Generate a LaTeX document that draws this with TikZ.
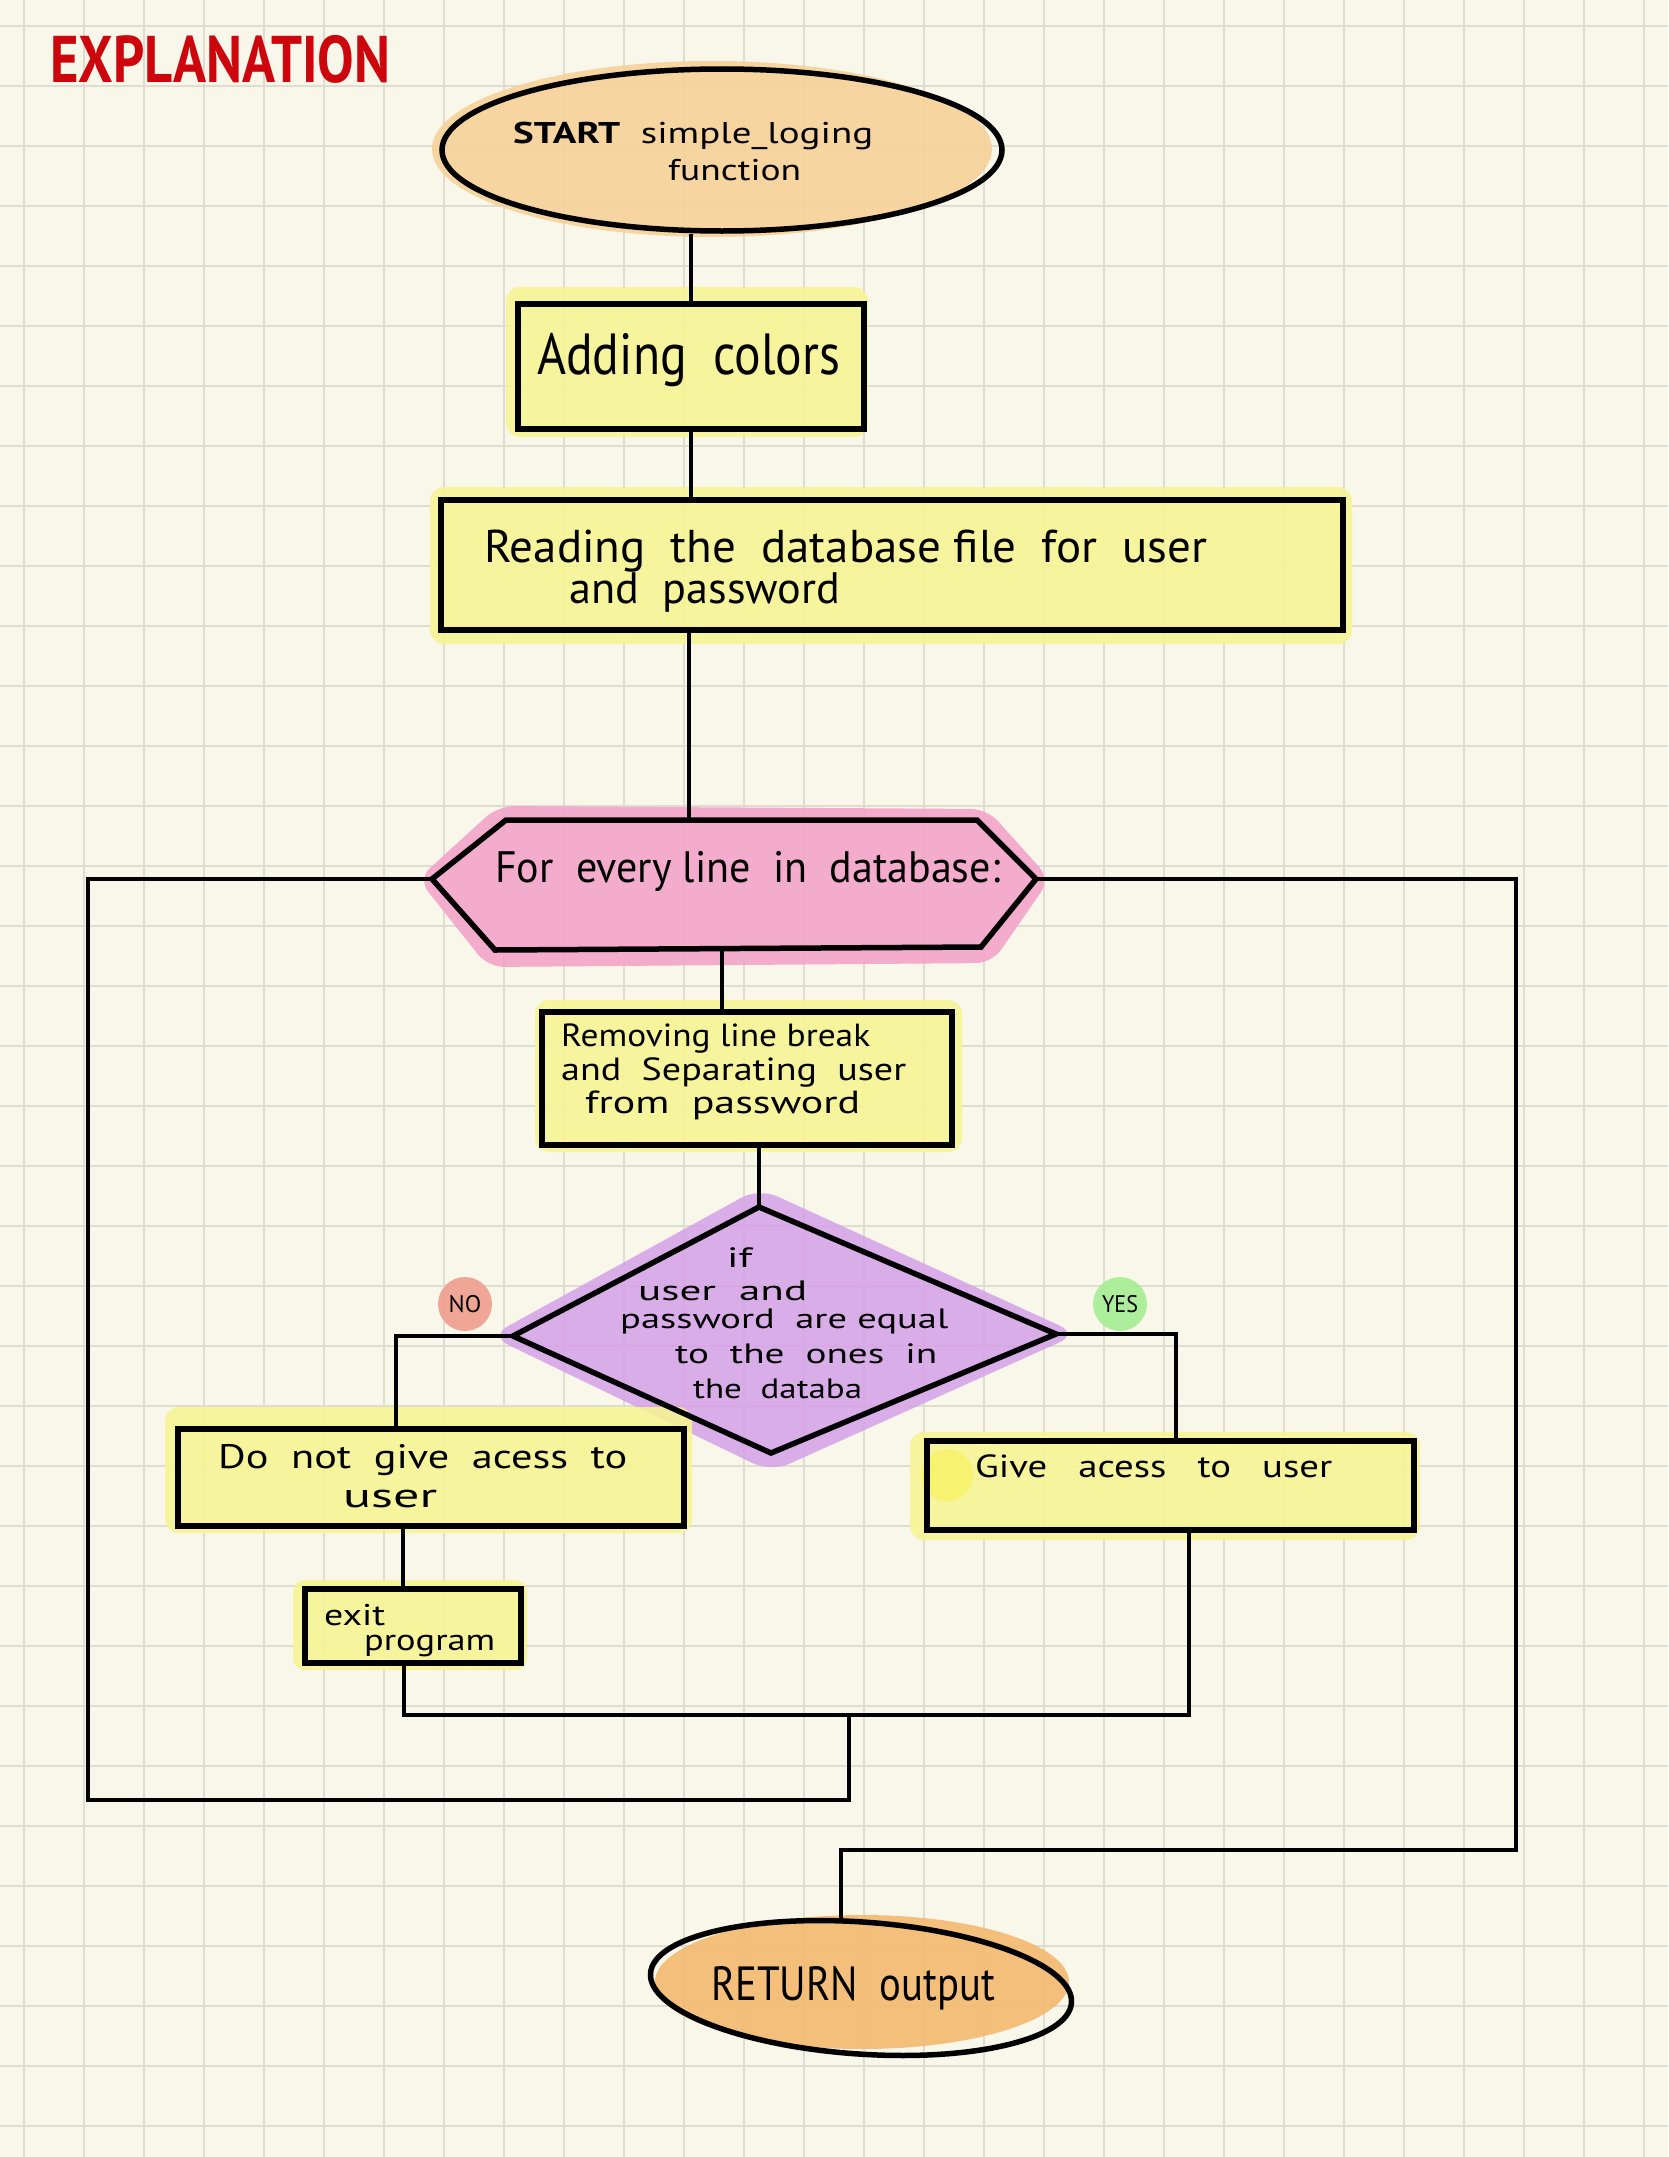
\documentclass[tikz,border=0pt]{standalone}
\usepackage{fontspec}
\usepackage{graphicx}
\setmainfont{PT Sans}
\usetikzlibrary{shapes.geometric,calc}
\definecolor{bgc}{RGB}{249,246,234}
\definecolor{gridc}{RGB}{223,220,210}
\definecolor{hlY}{RGB}{246,244,146}
\definecolor{hlP}{RGB}{244,162,202}
\definecolor{hlV}{RGB}{213,163,231}
\definecolor{hlO}{RGB}{246,209,152}
\definecolor{hlR}{RGB}{244,184,108}
\definecolor{redT}{RGB}{204,6,12}
\definecolor{noC}{RGB}{239,158,142}
\definecolor{yesC}{RGB}{165,238,148}
\newcommand{\fitw}[2]{\resizebox{#1pt}{\height}{#2}}
\tikzset{
  gridl/.style={gridc, line width=2.5pt},
  hl/.style={fill opacity=0.88},
  boxnode/.style={draw, line width=5.5pt, rectangle, inner sep=0pt},
  ellnode/.style={draw, line width=5.5pt, ellipse, inner sep=0pt},
  shapeline/.style={line width=5.5pt, line join=miter},
  conn/.style={line width=4pt},
  txt/.style={inner sep=0pt, anchor=base west, font=\fontsize{#1}{#1}\selectfont},
  tag/.style={circle, inner sep=0pt, minimum size=54pt, fill opacity=0.9, text opacity=1, font=\fontsize{24}{24}\selectfont}
}
\begin{document}
\begin{tikzpicture}[x=1pt,y=-1pt]
\useasboundingbox (0,0) rectangle (1668,2157);
\fill[bgc] (0,0) rectangle (1668,2157);
% grid
\foreach \k in {0,...,27} {\draw[gridl] ({24+60*\k},0) -- ({24+60*\k},2157);}
\foreach \k in {0,...,35} {\draw[gridl] (0,{26+60*\k}) -- (1668,{26+60*\k});}

% highlights
\fill[hlO, hl] (712,149) ellipse [x radius=280, y radius=88];
\fill[hlY, hl, rounded corners=14pt] (506,287) rectangle (868,437);
\fill[hlY, hl, rounded corners=14pt] (430,487) rectangle (1352,644);
\fill[hlP, hl, rounded corners=16pt] (418,879) -- (498,806) -- (987,809) -- (1050,879) -- (992,963) -- (488,967) -- cycle;
\fill[hlY, hl, rounded corners=14pt] (535,1000) rectangle (962,1152);
\fill[hlV, hl, rounded corners=20pt] (759,1188) -- (1078,1334) -- (771,1472) -- (490,1336) -- cycle;
\fill[hlY, hl, rounded corners=14pt] (165,1407) rectangle (692,1533);
\fill[hlY, hl, rounded corners=14pt] (910,1432) rectangle (1420,1540);
\fill[yellow!60!hlY, opacity=0.45] (947,1475) circle (26);
\fill[hlY, hl, rounded corners=12pt] (293,1580) rectangle (527,1670);
\fill[hlR, hl] (862,1982) ellipse [x radius=207, y radius=67];

% shapes
\node[ellnode, minimum width=560pt, minimum height=162pt] (start) at (722,150) {};
\node[boxnode, minimum width=346pt, minimum height=125pt] (add) at (691,366.5) {};
\node[boxnode, minimum width=902pt, minimum height=130pt] (read) at (892,565) {};
\coordinate (hL) at (432,879);
\coordinate (hTL) at (506,820);
\coordinate (hTR) at (977,820);
\coordinate (hR) at (1036,879);
\coordinate (hBR) at (981,947);
\coordinate (hBL) at (495,950);
\coordinate (hIn) at (689,820);
\coordinate (hOut) at (722,949);
\draw[shapeline] (hL) -- (hTL) -- (hTR) -- (hR) -- (hBR) -- (hBL) -- cycle;
\node[boxnode, minimum width=410pt, minimum height=133pt] (remove) at (747,1078.5) {};
\coordinate (dT) at (759,1207);
\coordinate (dR) at (1056,1334);
\coordinate (dB) at (771,1453);
\coordinate (dL) at (513,1336);
\draw[shapeline] (dT) -- (dR) -- (dB) -- (dL) -- cycle;
\node[boxnode, minimum width=506pt, minimum height=97pt] (donot) at (431,1477.5) {};
\node[boxnode, minimum width=487pt, minimum height=89pt] (give) at (1170.5,1485.5) {};
\node[boxnode, minimum width=216pt, minimum height=74pt] (exit) at (413,1626) {};
\node[ellnode, minimum width=422pt, minimum height=132pt, rotate=-4] (ret) at (861,1988) {};

% connectors
\draw[conn] (add.north |- start.south) -- (add.north);
\draw[conn] (add.south) -- (add.south |- read.north);
\draw[conn] (hIn |- read.south) -- (hIn);
\draw[conn] (hOut) -- (hOut |- remove.north);
\draw[conn] (dT |- remove.south) -- (dT);
\draw[conn] (dL) -| ([xshift=-35pt]donot.north);
\draw[conn] (dR) -| ([xshift=5pt]give.north);
\draw[conn] ([xshift=-28pt]donot.south) -- ([xshift=-28pt]donot.south |- exit.north);
\coordinate (m1) at (849,1715);
\coordinate (lowL) at (88,1800);
\coordinate (lowR) at (1516,1850);
\draw[conn] ([xshift=-9pt]exit.south) |- (m1) -| ([xshift=18pt]give.south);
\draw[conn] (m1) |- (lowL) |- (hL);
\draw[conn] (hR) -| (lowR) -| ([xshift=-25pt]ret.north);

% tags
\node[tag, fill=noC] (no) at (465,1304) {NO};
\node[tag, fill=yesC] (yes) at (1120,1304) {\fitw{36}{YES}};

% texts
\node[txt=66, text=redT] (tExpl) at (50,82) {\fitw{340}{\bfseries EXPLANATION}};
\node[txt=30] (tStart1) at (513,143) {\fitw{360}{\textbf{START}~~simple\_loging}};
\node[txt=30] (tStart2) at (668,180) {\fitw{133}{function}};
\node[txt=58] (tAdd) at (537,374) {\fitw{303}{Adding~~colors}};
\node[txt=46] (tRead1) at (484,562) {\fitw{723}{Reading~~the~~database~file~~for~~user}};
\node[txt=44] (tRead2) at (569,603) {\fitw{271}{and~~password}};
\node[txt=44] (tHex) at (495,882) {\fitw{505}{For~~every~line~~in~~database:}};
\node[txt=32] (tRem1) at (561,1046) {\fitw{309}{Removing~line~break}};
\node[txt=32] (tRem2) at (561,1080) {\fitw{345}{and~~Separating~~user}};
\node[txt=32] (tRem3) at (585,1113) {\fitw{275}{from~~password}};
\node[txt=28] (tIf) at (727,1267) {\fitw{25}{if}};
\node[txt=28] (tD1) at (638,1300) {\fitw{169}{user~~and}};
\node[txt=28] (tD2) at (620,1328) {\fitw{328}{password~~are~equal}};
\node[txt=28] (tD3) at (675,1363) {\fitw{262}{to~~the~~ones~~in}};
\node[txt=28] (tD4) at (693,1398) {\fitw{169}{the~~databa}};
\node[txt=34] (tNo1) at (218,1468) {\fitw{409}{Do~~not~~give~~acess~~to}};
\node[txt=34] (tNo2) at (343,1507) {\fitw{94}{user}};
\node[txt=32] (tGive) at (975,1477) {\fitw{357}{Give~~~acess~~~to~~~user}};
\node[txt=30] (tExit1) at (324,1625) {\fitw{61}{exit}};
\node[txt=30] (tExit2) at (364,1650) {\fitw{131}{program}};
\node[txt=48] (tRet) at (711,2000) {\fitw{284}{RETURN~~output}};
\end{tikzpicture}
\end{document}
